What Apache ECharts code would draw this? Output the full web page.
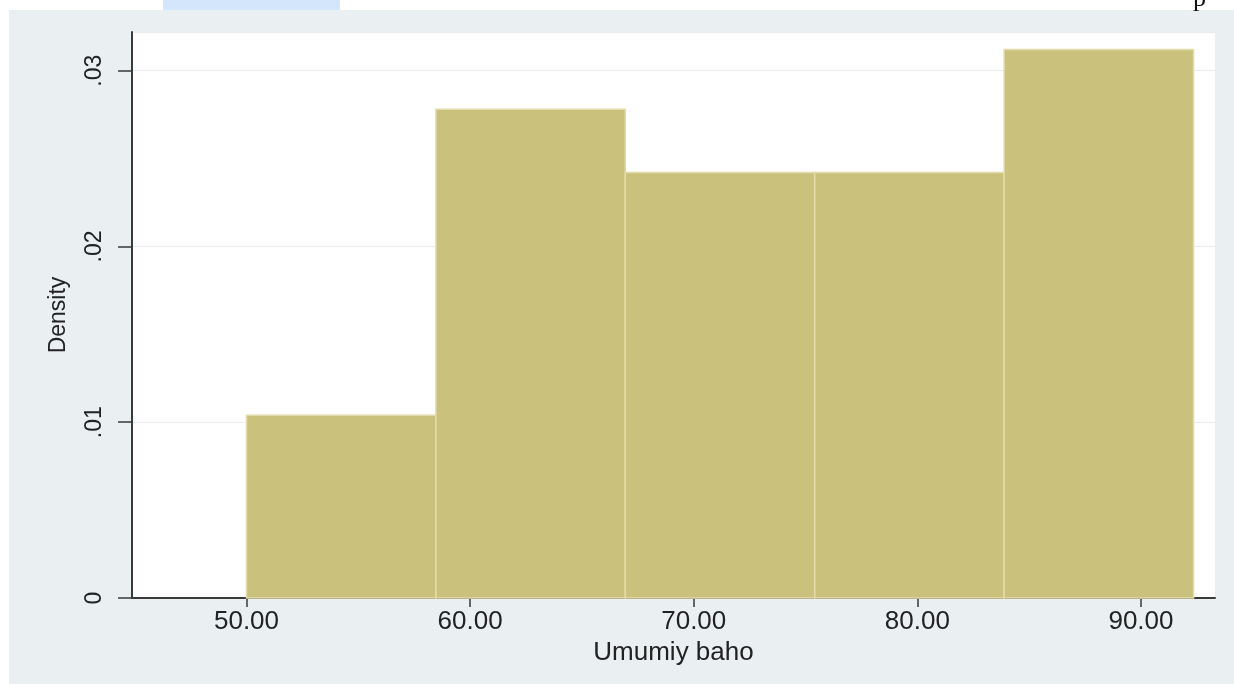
<!DOCTYPE html>
<html>
<head>
<meta charset="utf-8">
<script src="https://cdn.jsdelivr.net/npm/echarts@6/dist/echarts.min.js"></script>
<style>
html,body{margin:0;padding:0;background:#fff;}
#chart{width:1234px;height:684px;}
</style>
</head>
<body>
<div id="chart"></div>
<script>
// Histogram data
const binEdges = [50.00, 58.47, 66.94, 75.41, 83.88, 92.35];
const densities = [0.0104, 0.0278, 0.0242, 0.0242, 0.0312];
const xTickValues = [50, 60, 70, 80, 90];
const yTickValues = [0, 0.01, 0.02, 0.03];
const xTitle = 'Umumiy baho';
const yTitle = 'Density';

const barData = densities.map((d, i) => [binEdges[i], binEdges[i + 1], d]);

const FONT = '"Liberation Sans", Arial, Helvetica, sans-serif';
const chart = echarts.init(document.getElementById('chart'));
chart.setOption({
  backgroundColor: '#ffffff',
  animation: false,
  graphic: [
    { type: 'rect', z: -100, silent: true, shape: { x: 9, y: 10, width: 1225, height: 674 }, style: { fill: '#eaeff2' } },
    { type: 'rect', z: -100, silent: true, shape: { x: 163, y: 0, width: 177, height: 10 }, style: { fill: '#d3e6fb' } },
    { type: 'text', z: -90, silent: true, left: 1193, top: -14, style: { text: 'p', font: '26px "Liberation Serif", "Times New Roman", serif', fill: '#111' } }
  ],
  grid: {
    left: 132, right: 19, top: 32, bottom: 86,
    show: true, backgroundColor: '#ffffff', borderWidth: 0
  },
  xAxis: {
    type: 'value',
    min: 44.88, max: 93.31,
    name: xTitle,
    nameLocation: 'middle',
    nameGap: 36,
    nameTextStyle: { fontFamily: FONT, fontSize: 26, color: '#222' },
    axisLine: { show: true, onZero: false, lineStyle: { color: '#3a3a3a', width: 2 } },
    axisTick: { show: true, length: 9, customValues: xTickValues, lineStyle: { color: '#3a3a3a', width: 1.5 } },
    axisLabel: {
      customValues: xTickValues,
      margin: 11,
      fontFamily: FONT, fontSize: 26, color: '#222',
      formatter: v => v.toFixed(2)
    },
    splitLine: { show: false }
  },
  yAxis: {
    type: 'value',
    min: 0, max: 0.0322, interval: 0.01,
    name: yTitle,
    nameLocation: 'middle',
    nameGap: 62,
    nameRotate: 90,
    nameTextStyle: { fontFamily: FONT, fontSize: 23, color: '#222' },
    axisLine: { show: true, lineStyle: { color: '#3a3a3a', width: 2 } },
    axisTick: { show: true, length: 14, lineStyle: { color: '#3a3a3a', width: 1.5 } },
    axisLabel: {
      rotate: 90,
      margin: 26,
      showMaxLabel: false,
      fontFamily: FONT, fontSize: 23, color: '#222',
      formatter: v => {
        if (Math.abs(v) < 1e-9) return '0';
        return v.toFixed(2).replace(/^0/, '');
      }
    },
    splitLine: { show: true, lineStyle: { color: '#e9edf0', width: 1 } }
  },
  series: [{
    type: 'custom',
    encode: { x: [0, 1], y: 2 },
    data: barData,
    renderItem: function (params, api) {
      const p0 = api.coord([api.value(0), api.value(2)]);
      const p1 = api.coord([api.value(1), 0]);
      return {
        type: 'rect',
        shape: { x: p0[0], y: p0[1], width: p1[0] - p0[0], height: p1[1] - p0[1] },
        style: { fill: '#cac27c', stroke: '#e3dcaa', lineWidth: 1.5 }
      };
    }
  }]
});
</script>
</body>
</html>
